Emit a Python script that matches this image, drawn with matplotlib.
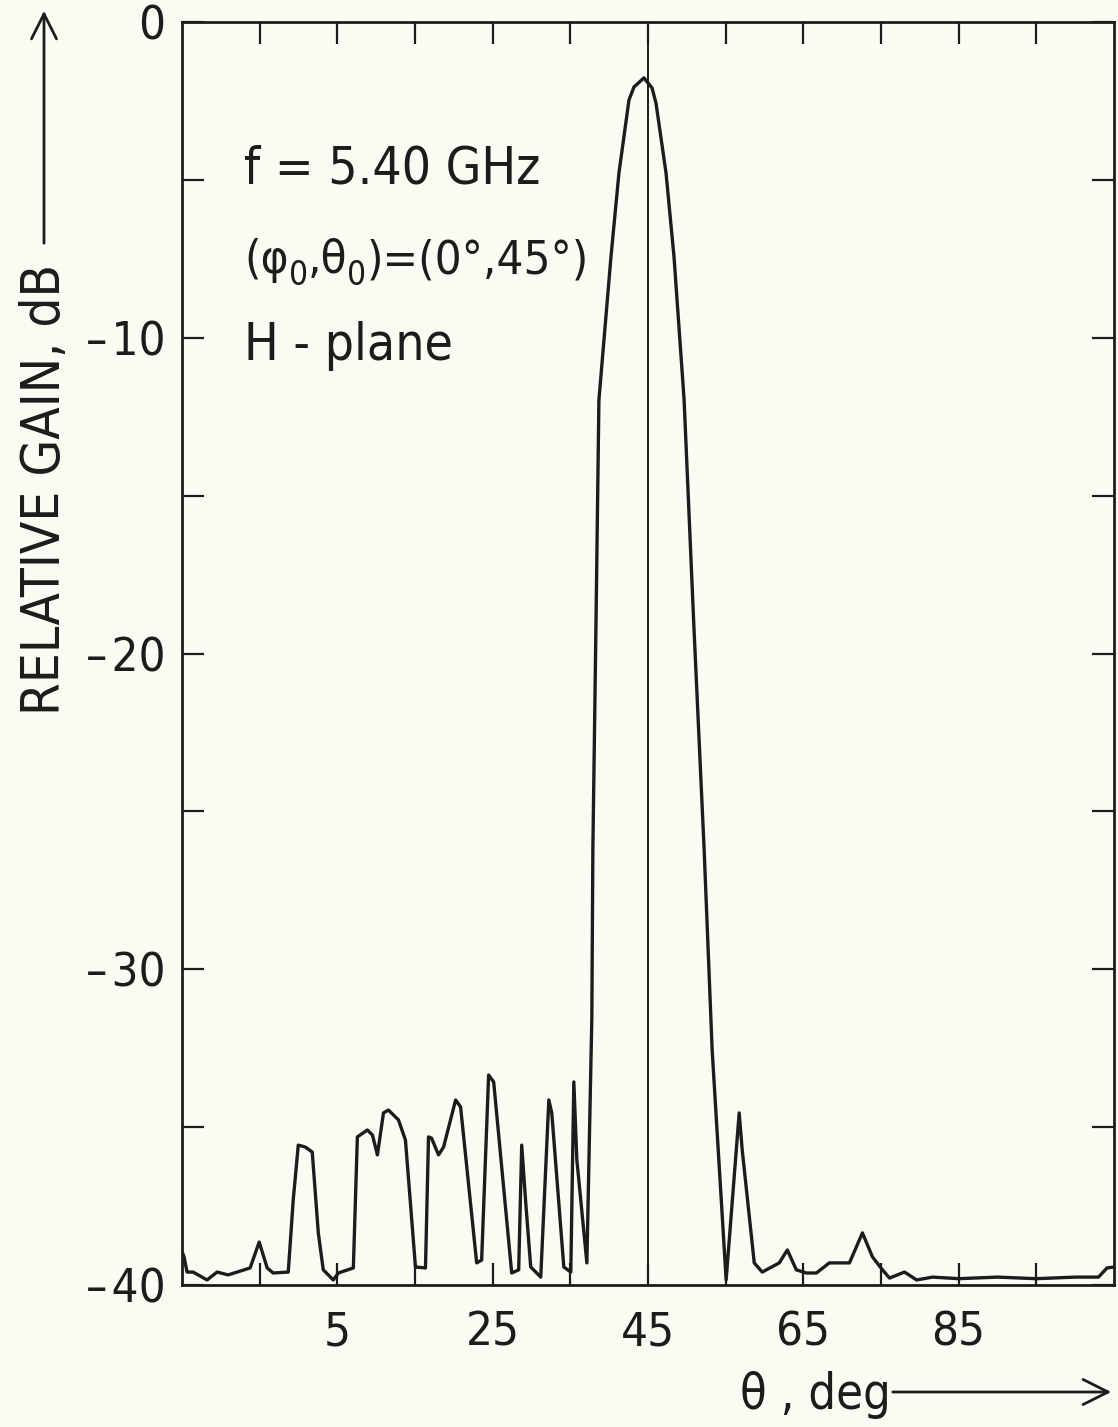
import matplotlib
matplotlib.use('Agg')
import matplotlib.pyplot as plt

# H-plane pattern: theta (deg) and relative gain (dB)
theta = [-14.9, -14.74, -14.35, -13.58, -11.77, -10.48, -9.06, -6.23, -5.06, -4.03,
         -3.26, -1.32, -0.68, -0.03, 0.87, 1.77, 2.55, 3.19, 4.48, 5.13,
         7.06, 7.58, 8.87, 9.52, 10.16, 10.94, 11.58, 12.87, 13.77, 15.06,
         16.35, 16.74, 17.13, 18.03, 18.68, 20.23, 20.87, 22.94, 23.58, 24.48,
         25.13, 27.45, 28.35, 28.74, 29.26, 29.9, 31.19, 32.23, 32.61, 34.16,
         35.06, 35.45, 35.84, 37.13, 37.77, 37.9, 38.3, 38.68, 40.23, 41.26,
         42.55, 43.19, 44.48, 45.52, 46.03, 47.32, 48.35, 49.65, 50.9, 52.23,
         53.26, 55.06, 56.74, 57.13, 58.68, 59.71, 61.9, 62.94, 64.1, 65.39,
         66.68, 68.35, 70.94, 72.61, 73.9, 75.19, 76.1, 78.03, 79.58, 81.65,
         85.0, 90.0, 95.0, 100.0, 103.0, 104.1, 105.0]
gain = [-39.0, -39.11, -39.59, -39.59, -39.84, -39.59, -39.68, -39.46, -38.64, -39.46,
        -39.62, -39.59, -37.31, -35.57, -35.63, -35.79, -38.35, -39.52, -39.84, -39.62,
        -39.46, -35.31, -35.09, -35.25, -35.88, -34.55, -34.46, -34.77, -35.41, -39.43,
        -39.46, -35.31, -35.35, -35.88, -35.63, -34.14, -34.36, -39.3, -39.21, -33.35,
        -33.57, -39.62, -39.52, -35.57, -37.4, -39.43, -39.75, -34.14, -34.55, -39.43,
        -39.59, -33.57, -36.04, -39.3, -31.51, -26.22, -19.1, -11.97, -7.44, -4.78,
        -2.47, -2.06, -1.77, -2.09, -2.57, -4.78, -7.44, -11.97, -19.1, -26.22,
        -32.56, -39.84, -34.55, -35.72, -39.3, -39.59, -39.3, -38.89, -39.52, -39.62,
        -39.62, -39.3, -39.3, -38.35, -39.11, -39.52, -39.78, -39.59, -39.84, -39.75,
        -39.8, -39.75, -39.8, -39.75, -39.75, -39.46, -39.43]

beam_theta = 45
x_ticks = list(range(-5, 100, 10))
x_labelled = [5, 25, 45, 65, 85]
y_ticks = list(range(-40, 1, 5))
# second line split in pieces so the subscripts can sit low: (text, is_subscript)
scan_pieces = [('(φ', False), ('0', True), (',θ', False), ('0', True), (')=(0°,45°)', False)]

W, H = 1118, 1427
ink = '#1c1c1c'
paper = '#fcfbf3'

plt.rcParams['font.family'] = 'DejaVu Sans'
plt.rcParams['font.stretch'] = 'condensed'


def fpos(x, y):
    # image pixels (from top left) -> figure fraction
    return x / W, 1 - y / H


fig = plt.figure(figsize=(W / 100, H / 100), dpi=100, facecolor=paper)
ax = fig.add_axes([182 / W, 1 - 1285 / H, (1114 - 182) / W, (1285 - 22) / H])
ax.set_facecolor(paper)

ax.plot(theta, gain, color=ink, lw=2.4, solid_joinstyle='round')
ax.axvline(beam_theta, color=ink, lw=1.4)

ax.set_xlim(-15, 105)
ax.set_ylim(-40, 0)

ax.set_xticks(x_ticks)
ax.set_xticklabels([str(t) if t in x_labelled else '' for t in x_ticks])
ax.set_yticks(y_ticks)
ylabs = []
for t in y_ticks:
    if t == 0:
        ylabs.append('0')
    elif t % 10 == 0:
        ylabs.append('\u2013\u200a' + str(-t))
    else:
        ylabs.append('')
ax.set_yticklabels(ylabs)

ax.tick_params(axis='both', direction='in', length=16, width=1.6, color=ink,
               top=True, right=True, labelcolor=ink)
ax.tick_params(axis='x', pad=18, labelsize=34)
ax.tick_params(axis='y', pad=12, labelsize=34)
for s in ax.spines.values():
    s.set_linewidth(2.0)
    s.set_color(ink)

# annotation block
fig.text(*fpos(244, 184), 'f = 5.40 GHz', fontsize=37, color=ink, va='baseline')
fig.text(*fpos(244, 360), 'H - plane', fontsize=37, color=ink, va='baseline')
rend = fig.canvas.get_renderer()
x = 244
for txt, sub in scan_pieces:
    if sub:
        t = fig.text(*fpos(x, 285), txt, fontsize=24, color=ink, va='baseline')
    else:
        t = fig.text(*fpos(x, 273), txt, fontsize=34, color=ink, va='baseline')
    x = t.get_window_extent(renderer=rend).x1

# axis titles with arrows
fig.text(*fpos(45, 715), 'RELATIVE GAIN, dB', rotation=90, fontsize=38,
         color=ink, ha='center', va='bottom')
ax.annotate('', xy=(44, H - 8), xytext=(44, H - 246), xycoords='figure pixels',
            arrowprops=dict(arrowstyle='->', lw=2, color=ink, mutation_scale=45))
fig.text(*fpos(740, 1395), 'θ , deg', fontsize=35, color=ink, ha='left', va='center')
ax.annotate('', xy=(1114, H - 1392), xytext=(890, H - 1392), xycoords='figure pixels',
            arrowprops=dict(arrowstyle='->', lw=2, color=ink, mutation_scale=45))

fig.savefig('out.png', dpi=100, facecolor=paper)
